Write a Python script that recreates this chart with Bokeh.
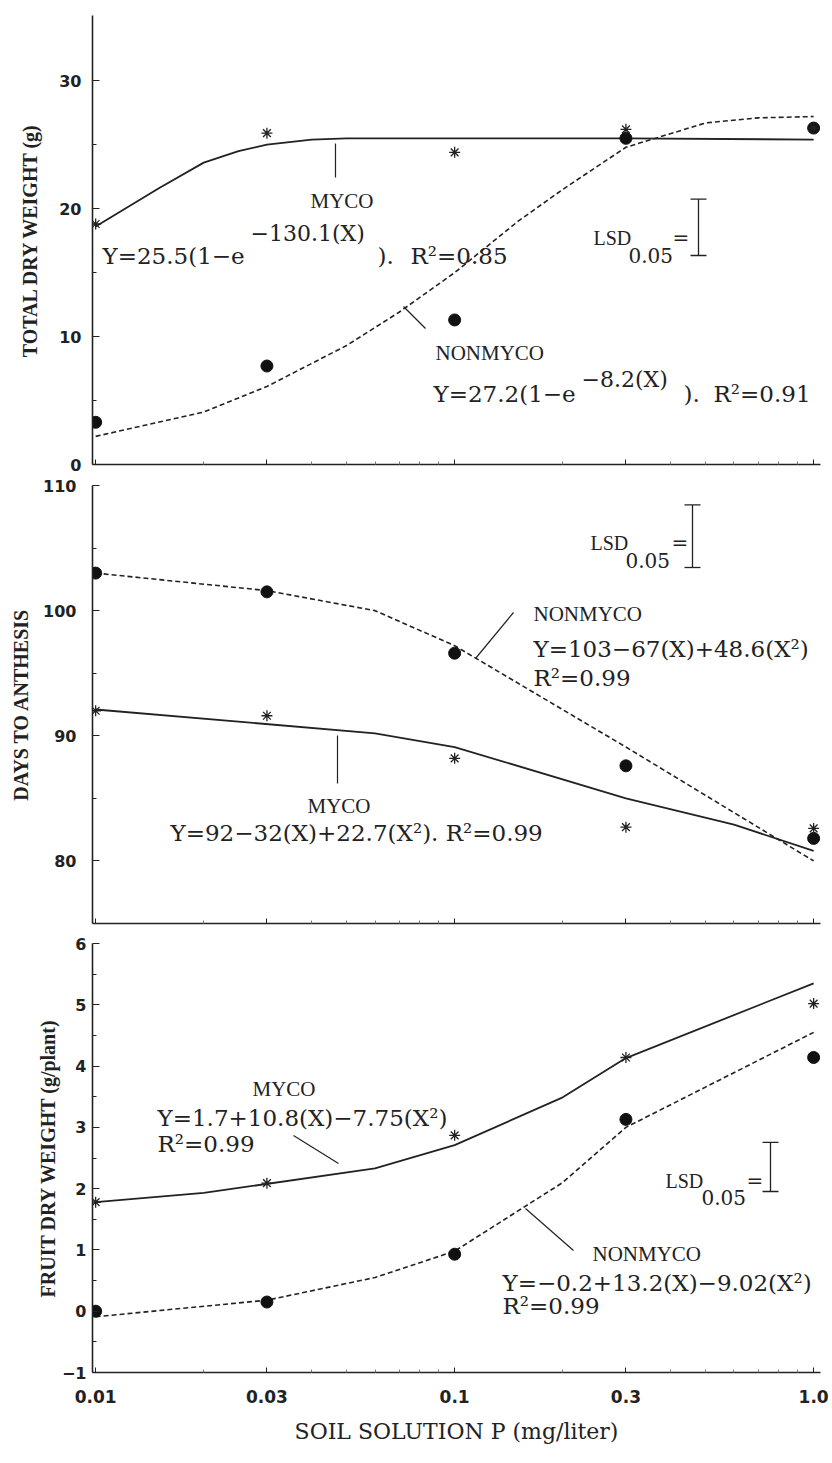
import math
from bokeh.plotting import figure
from bokeh.layouts import column
from bokeh.models import FixedTicker, CustomJSTickFormatter, Label, Range1d
from bokeh.embed import file_html
from bokeh.resources import INLINE

# ---------------- data ----------------
x_levels = [0.01, 0.03, 0.1, 0.3, 1.0]
x_tick_labels = ["0.01", "0.03", "0.1", "0.3", "1.0"]
x_minor = [0.02, 0.04, 0.05, 0.06, 0.07, 0.08, 0.09, 0.2, 0.4, 0.5, 0.6, 0.7, 0.8, 0.9]

# Panel 1: total dry weight (g)
dw_myco = [18.8, 25.9, 24.4, 26.2, 26.3]
dw_nonmyco = [3.3, 7.7, 11.3, 25.5, 26.3]
dw_fit_myco_x = [0.01, 0.015, 0.02, 0.025, 0.03, 0.04, 0.05, 0.1, 0.3, 1.0]
dw_fit_myco_y = [18.6, 21.6, 23.6, 24.5, 25.0, 25.4, 25.5, 25.5, 25.5, 25.4]
dw_fit_non_x = [0.01, 0.02, 0.03, 0.05, 0.07, 0.1, 0.15, 0.2, 0.3, 0.5, 0.7, 1.0]
dw_fit_non_y = [2.2, 4.1, 6.1, 9.3, 11.9, 15.0, 19.0, 21.5, 24.8, 26.7, 27.1, 27.2]

# Panel 2: days to anthesis
days_myco = [92.0, 91.6, 88.2, 82.7, 82.6]
days_nonmyco = [103.0, 101.5, 96.6, 87.6, 81.8]
days_fit_myco_x = [0.01, 0.06, 0.1, 0.3, 0.6, 1.0]
days_fit_myco_y = [92.1, 90.2, 89.1, 85.0, 82.9, 80.8]
days_fit_non_x = [0.01, 0.03, 0.06, 0.1, 0.3, 1.0]
days_fit_non_y = [103.0, 101.6, 100.0, 97.2, 89.1, 80.0]

# Panel 3: fruit dry weight (g/plant)
fruit_myco = [1.78, 2.09, 2.87, 4.14, 5.02]
fruit_nonmyco = [0.0, 0.15, 0.93, 3.13, 4.14]
fruit_fit_myco_x = [0.01, 0.02, 0.06, 0.1, 0.2, 0.3, 1.0]
fruit_fit_myco_y = [1.78, 1.93, 2.33, 2.71, 3.49, 4.13, 5.35]
fruit_fit_non_x = [0.01, 0.03, 0.06, 0.1, 0.2, 0.3, 1.0]
fruit_fit_non_y = [-0.09, 0.18, 0.55, 0.98, 2.1, 3.0, 4.55]

lsd_values = [4.4, 5.0, 0.8]

# ---------------- geometry ----------------
INK = "#222222"
FL = 92            # frame left on page (px)
FW = 728           # frame width
X0, X1 = 0.0098, 1.045
LX0, LX1 = math.log10(X0), math.log10(X1)


def px2x(px):
    return 10 ** (LX0 + (px - FL) / FW * (LX1 - LX0))


def make_py2y(top, h, y0, y1):
    return lambda py: y1 - (py - top) / h * (y1 - y0)


EQ_FONT = "DejaVu Serif"
LBL_FONT = "Liberation Serif"


def txt(p, fx, fy, px, py, s, font=EQ_FONT, size="23px"):
    p.add_layout(Label(x=fx(px), y=fy(py), text=s, text_font=font,
                       text_font_size=size, text_color=INK,
                       text_baseline="alphabetic", text_align="left"))


def seg(p, fx, fy, a, b, width=1.2):
    p.line(x=[fx(a[0]), fx(b[0])], y=[fy(a[1]), fy(b[1])],
           line_color=INK, line_width=width)


def make_fig(frame_h, y0, y1, yticks, yminor, ylabel, tick_std, lab_std,
             top_b, bot_b, show_x):
    p = figure(frame_width=FW, frame_height=frame_h, x_axis_type="log",
               x_range=Range1d(X0, X1), y_range=Range1d(y0, y1),
               output_backend="svg", toolbar_location=None,
               min_border_left=FL, min_border_right=12,
               min_border_top=top_b, min_border_bottom=bot_b)
    p.outline_line_color = None
    p.grid.visible = False
    p.background_fill_color = "white"
    p.border_fill_color = "white"

    ya = p.yaxis[0]
    ya.ticker = FixedTicker(ticks=yticks, minor_ticks=yminor)
    ya.major_tick_in = 7
    ya.major_tick_out = 0
    ya.minor_tick_in = 4
    ya.minor_tick_out = 0
    ya.axis_line_width = 1.6
    ya.axis_line_color = INK
    ya.major_tick_line_color = INK
    ya.minor_tick_line_color = INK
    ya.major_label_text_font = "DejaVu Sans"
    ya.major_label_text_font_style = "bold"
    ya.major_label_text_font_size = "16px"
    ya.major_label_text_color = INK
    ya.major_label_standoff = tick_std
    ya.axis_label = ylabel
    ya.axis_label_text_font = LBL_FONT
    ya.axis_label_text_font_style = "bold"
    ya.axis_label_text_font_size = "20px"
    ya.axis_label_text_color = INK
    ya.axis_label_standoff = lab_std

    xa = p.xaxis[0]
    xa.ticker = FixedTicker(ticks=x_levels, minor_ticks=x_minor)
    xa.major_tick_in = 5
    xa.major_tick_out = 0
    xa.minor_tick_in = 3
    xa.minor_tick_out = 0
    xa.axis_line_width = 1.6
    xa.axis_line_color = INK
    xa.major_tick_line_color = INK
    xa.minor_tick_line_color = "#777777"
    if show_x:
        xa.formatter = CustomJSTickFormatter(
            args=dict(tv=x_levels, labels=x_tick_labels),
            code="""
            for (let i = 0; i < tv.length; i++) {
                if (Math.abs(Math.log10(tv[i]) - Math.log10(tick)) < 1e-6) return labels[i];
            }
            return '';
            """)
        xa.major_label_text_font = "DejaVu Sans"
        xa.major_label_text_font_style = "bold"
        xa.major_label_text_font_size = "17px"
        xa.major_label_text_color = INK
        xa.major_label_standoff = 17
        xa.axis_label = "SOIL SOLUTION P (mg/liter)"
        xa.axis_label_text_font = EQ_FONT
        xa.axis_label_text_font_style = "normal"
        xa.axis_label_text_font_size = "22px"
        xa.axis_label_text_color = INK
        xa.axis_label_standoff = 13
    else:
        xa.major_label_text_font_size = "0px"
        xa.major_label_text_alpha = 0
        xa.major_label_standoff = 0
        xa.formatter = CustomJSTickFormatter(code="return '';")
    return p


def draw_series(p, myco, non, fmx, fmy, fnx, fny):
    p.line(x=fmx, y=fmy, line_color=INK, line_width=1.8)
    p.line(x=fnx, y=fny, line_color=INK, line_width=1.6, line_dash="5 3")
    p.scatter(x=x_levels, y=non, marker="circle", size=12,
              fill_color="#111111", line_color="#111111")
    p.scatter(x=x_levels, y=myco, marker="asterisk", size=11,
              line_color=INK, line_width=1.3)


def lsd_bracket(p, fx, fy, bx, bottom_py, lsd, lsd_px, sub_px, eq_px):
    base = fy(bottom_py)
    p.line(x=[fx(bx), fx(bx)], y=[base, base + lsd], line_color=INK, line_width=1.3)
    for yy in (base, base + lsd):
        p.line(x=[fx(bx - 8), fx(bx + 8)], y=[yy, yy], line_color=INK, line_width=1.3)
    txt(p, fx, fy, lsd_px[0], lsd_px[1], "LSD", font=LBL_FONT, size="20px")
    txt(p, fx, fy, sub_px[0], sub_px[1], "0.05", size="20px")
    txt(p, fx, fy, eq_px[0], eq_px[1], "=", size="20px")


# ---------------- panel 1 ----------------
p1 = make_fig(449, 0, 35.1, [0, 10, 20, 30], [5, 15, 25], "TOTAL DRY WEIGHT (g)",
              11, 15, 15, 10, False)
fy1 = make_py2y(15, 449, 0, 35.1)
draw_series(p1, dw_myco, dw_nonmyco, dw_fit_myco_x, dw_fit_myco_y,
            dw_fit_non_x, dw_fit_non_y)
txt(p1, px2x, fy1, 310, 200, "MYCO", font=LBL_FONT, size="21px")
seg(p1, px2x, fy1, (335, 143), (335, 177))
txt(p1, px2x, fy1, 102, 255, "Y=25.5(1\u2212e")
txt(p1, px2x, fy1, 250, 233, "\u2212130.1(X)", size="22px")
txt(p1, px2x, fy1, 377, 255, ").")
txt(p1, px2x, fy1, 410, 255, "R\u00b2=0.85")
txt(p1, px2x, fy1, 435, 352, "NONMYCO", font=LBL_FONT, size="21px")
seg(p1, px2x, fy1, (403, 306), (425, 328))
txt(p1, px2x, fy1, 433, 393, "Y=27.2(1\u2212e")
txt(p1, px2x, fy1, 581, 379, "\u22128.2(X)", size="22px")
txt(p1, px2x, fy1, 683, 393, ").")
txt(p1, px2x, fy1, 713, 393, "R\u00b2=0.91")
lsd_bracket(p1, px2x, fy1, 698, 255, lsd_values[0], (593, 237), (628, 255), (672, 237))

# ---------------- panel 2 ----------------
p2 = make_fig(438, 75, 110, [80, 90, 100, 110], [85, 95, 105], "DAYS TO ANTHESIS",
              16, 8, 11, 9, False)
fy2 = make_py2y(485, 438, 75, 110)
draw_series(p2, days_myco, days_nonmyco, days_fit_myco_x, days_fit_myco_y,
            days_fit_non_x, days_fit_non_y)
lsd_bracket(p2, px2x, fy2, 692, 567, lsd_values[1], (590, 542), (625, 560), (671, 542))
txt(p2, px2x, fy2, 533, 613, "NONMYCO", font=LBL_FONT, size="21px")
txt(p2, px2x, fy2, 533, 648, "Y=103\u221267(X)+48.6(X\u00b2)")
txt(p2, px2x, fy2, 533, 677, "R\u00b2=0.99")
seg(p2, px2x, fy2, (475, 658), (513, 612))
txt(p2, px2x, fy2, 307, 805, "MYCO", font=LBL_FONT, size="21px")
seg(p2, px2x, fy2, (337, 735), (337, 783))
txt(p2, px2x, fy2, 170, 832, "Y=92\u221232(X)+22.7(X\u00b2). R\u00b2=0.99")

# ---------------- panel 3 ----------------
p3 = make_fig(429, -1, 6, [-1, 0, 1, 2, 3, 4, 5, 6],
              [-0.5, 0.5, 1.5, 2.5, 3.5, 4.5, 5.5], "FRUIT DRY WEIGHT (g/plant)",
              6, 0, 11, 80, True)
fy3 = make_py2y(943, 429, -1, 6)
draw_series(p3, fruit_myco, fruit_nonmyco, fruit_fit_myco_x, fruit_fit_myco_y,
            fruit_fit_non_x, fruit_fit_non_y)
txt(p3, px2x, fy3, 252, 1088, "MYCO", font=LBL_FONT, size="21px")
txt(p3, px2x, fy3, 157, 1117, "Y=1.7+10.8(X)\u22127.75(X\u00b2)")
txt(p3, px2x, fy3, 157, 1143, "R\u00b2=0.99")
seg(p3, px2x, fy3, (293, 1135), (338, 1163))
txt(p3, px2x, fy3, 592, 1253, "NONMYCO", font=LBL_FONT, size="21px")
txt(p3, px2x, fy3, 502, 1282, "Y=\u22120.2+13.2(X)\u22129.02(X\u00b2)")
txt(p3, px2x, fy3, 502, 1305, "R\u00b2=0.99")
seg(p3, px2x, fy3, (525, 1208), (573, 1250))
lsd_bracket(p3, px2x, fy3, 770, 1191, lsd_values[2], (665, 1180), (701, 1197), (746, 1180))

layout = column(p1, p2, p3, spacing=0)
open("out.html", "w").write(file_html(layout, INLINE))
